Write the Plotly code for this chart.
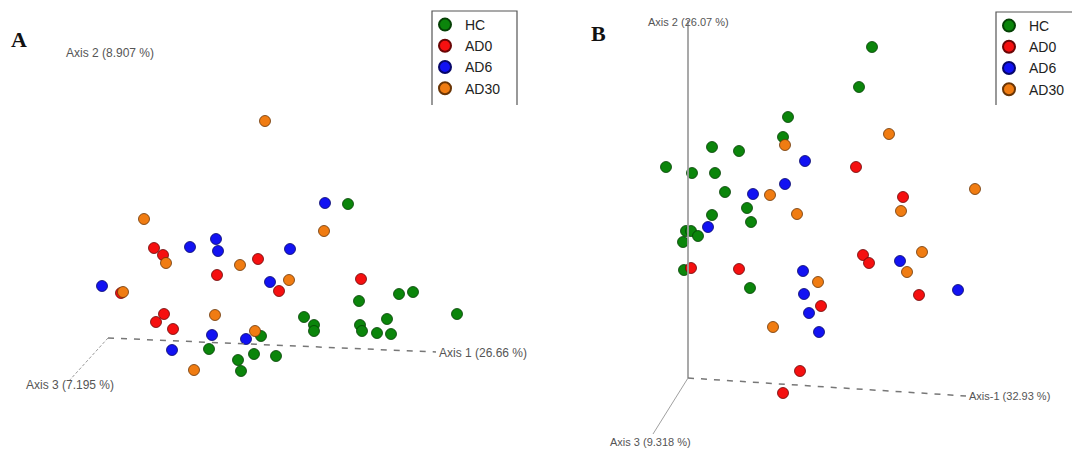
import plotly.graph_objects as go

W, H = 1072, 449

groups = ["HC", "AD0", "AD6", "AD30"]
colors = {"HC": "#0b850b", "AD0": "#f51010", "AD6": "#1212f2", "AD30": "#f07c12"}
edges = {"HC": "#054005", "AD0": "#6a0606", "AD6": "#06066a", "AD30": "#6a3505"}

# Panel A: projected PCoA coordinates (origin at the axis corner)
hc_a_x = [240, 251, 291, 305, 349, 196, 206, 206, 252, 254, 269, 279, 283, 153, 101, 146, 168, 130, 133]
hc_a_y = [134, 37, 44, 46, 24, 21, 13, 7, 13, 7, 5, 19, 4, 2, -11, -16, -18, -22, -33]
ad0_a_x = [46, 55, 150, 109, 171, 253, 13, 56, 48, 65]
ad0_a_y = [90, 83, 79, 63, 47, 59, 45, 24, 16, 9]
ad6_a_x = [217, 108, 82, 110, 182, 162, -6, 104, 138, 64]
ad6_a_y = [135, 99, 91, 87, 89, 56, 52, 3, -1, -12]
ad30_a_x = [157, 36, 216, 58, 132, 181, 15, 107, 147, 86]
ad30_a_y = [217, 119, 107, 75, 73, 58, 46, 23, 7, -32]

# Panel B: projected PCoA coordinates (origin at the axis corner)
hc_b_x = [184, 171, 100, 95, 24, 51, -22, 4, 27, 37, 59, 24, 63, -2, 3, 10, -5, -4, 62]
hc_b_y = [331, 291, 261, 241, 231, 227, 211, 205, 205, 186, 170, 163, 156, 147, 147, 142, 136, 108, 90]
ad0_b_x = [168, 215, 3, 51, 175, 181, 231, 133, 112, 95]
ad0_b_y = [211, 181, 110, 109, 123, 115, 83, 72, 7, -15]
ad6_b_x = [117, 97, 65, 20, 115, 212, 270, 116, 121, 131]
ad6_b_y = [217, 194, 184, 151, 107, 117, 88, 84, 65, 46]
ad30_b_x = [201, 97, 82, 109, 287, 213, 234, 219, 130, 85]
ad30_b_y = [244, 233, 183, 164, 189, 167, 126, 106, 96, 51]

axis_labels_a = ["Axis 1 (26.66 %)", "Axis 2 (8.907 %)", "Axis 3 (7.195 %)"]
axis_labels_b = ["Axis-1 (32.93 %)", "Axis 2 (26.07 %)", "Axis 3 (9.318 %)"]

panel_a = {"HC": (hc_a_x, hc_a_y), "AD0": (ad0_a_x, ad0_a_y),
           "AD6": (ad6_a_x, ad6_a_y), "AD30": (ad30_a_x, ad30_a_y)}
panel_b = {"HC": (hc_b_x, hc_b_y), "AD0": (ad0_b_x, ad0_b_y),
           "AD6": (ad6_b_x, ad6_b_y), "AD30": (ad30_b_x, ad30_b_y)}

fig = go.Figure()

for panel, xa, ya, leg in [(panel_a, "x", "y", "legend"), (panel_b, "x2", "y2", "legend2")]:
    for g in groups:
        xs, ys = panel[g]
        fig.add_trace(go.Scatter(
            x=xs, y=ys, mode="markers", name=g, xaxis=xa, yaxis=ya, legend=leg,
            marker=dict(size=11, color=colors[g], line=dict(color=edges[g], width=0.8)),
        ))

ax_style = dict(visible=False, showgrid=False, zeroline=False, fixedrange=True)
fig.update_layout(
    width=W, height=H,
    margin=dict(l=0, r=0, t=0, b=0),
    paper_bgcolor="white", plot_bgcolor="white",
    xaxis=dict(domain=[0, 0.5], range=[-108, 428], **ax_style),
    yaxis=dict(domain=[0, 1], range=[-111, 338], **ax_style),
    xaxis2=dict(domain=[0.5, 1], range=[-152, 384], **ax_style),
    yaxis2=dict(domain=[0, 1], range=[-71, 378], **ax_style),
    font=dict(family="Arial, Liberation Sans, sans-serif"),
)

leg_common = dict(
    xanchor="left", yanchor="top", bgcolor="rgba(0,0,0,0)", borderwidth=0,
    font=dict(size=14, color="#222222", family="Arial, Liberation Sans, sans-serif"),
    itemsizing="constant", tracegroupgap=0,
)
fig.update_layout(
    legend=dict(x=425 / W, y=1 - 9 / H, **leg_common),
    legend2=dict(x=989 / W, y=1 - 10 / H, **leg_common),
)

shapes = []


def px(x):
    return x / W


def py(y):
    return 1 - y / H


# legend frames (top, left and right edges)
for left, right, top, bottom in [(432, 517, 11, 105), (996, 1080, 12, 105)]:
    shapes.append(dict(type="path", xref="paper", yref="paper",
                       path=f"M {px(left)},{py(bottom)} L {px(left)},{py(top)} L {px(right)},{py(top)} L {px(right)},{py(bottom)}",
                       line=dict(color="#555555", width=1.2)))

# Panel A axes
shapes.append(dict(type="line", xref="x", yref="y", x0=0, y0=0, x1=328, y1=-14,
                   line=dict(color="#777777", width=1.5, dash="6px,7px")))
shapes.append(dict(type="line", xref="x", yref="y", x0=0, y0=0, x1=-40, y1=-44,
                   line=dict(color="#999999", width=1, dash="3px,2px")))
# Panel B axes
shapes.append(dict(type="line", xref="x2", yref="y2", x0=0, y0=0, x1=0, y1=358,
                   line=dict(color="#a0a0a0", width=1.8)))
shapes.append(dict(type="line", xref="x2", yref="y2", x0=0, y0=0, x1=278, y1=-18,
                   line=dict(color="#777777", width=1.5, dash="6px,7px")))
shapes.append(dict(type="line", xref="x2", yref="y2", x0=0, y0=0, x1=-35, y1=-56,
                   line=dict(color="#a0a0a0", width=1)))
fig.update_layout(shapes=shapes)

lab_a = dict(size=12, color="#555555", family="Arial, Liberation Sans, sans-serif")
lab_b = dict(size=11, color="#555555", family="Arial, Liberation Sans, sans-serif")
annotations = [
    dict(text=axis_labels_a[0], x=329, y=-15, xref="x", yref="y", xanchor="left", yanchor="middle", font=lab_a),
    dict(text=axis_labels_a[1], x=-44, y=285, xref="x", yref="y", xanchor="left", yanchor="middle", font=lab_a),
    dict(text=axis_labels_a[2], x=-84, y=-47, xref="x", yref="y", xanchor="left", yanchor="middle", font=lab_a),
    dict(text=axis_labels_b[0], x=279, y=-18, xref="x2", yref="y2", xanchor="left", yanchor="middle", font=lab_b),
    dict(text=axis_labels_b[1], x=0, y=356, xref="x2", yref="y2", xanchor="center", yanchor="middle", font=lab_b),
    dict(text=axis_labels_b[2], x=-38, y=-64, xref="x2", yref="y2", xanchor="center", yanchor="middle", font=lab_b),
    dict(text="<b>A</b>", x=px(19), y=py(39), xref="paper", yref="paper", xanchor="center", yanchor="middle",
         font=dict(size=22, color="#111111", family="Liberation Serif, Times New Roman, serif")),
    dict(text="<b>B</b>", x=px(598), y=py(33), xref="paper", yref="paper", xanchor="center", yanchor="middle",
         font=dict(size=22, color="#111111", family="Liberation Serif, Times New Roman, serif")),
]
for a in annotations:
    a["showarrow"] = False
fig.update_layout(annotations=annotations)

fig.write_html("out.html")
